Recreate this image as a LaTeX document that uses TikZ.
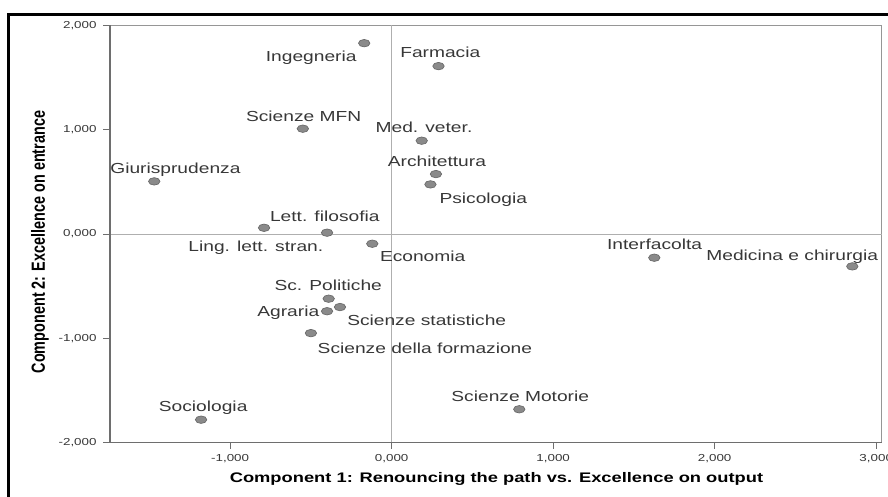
\documentclass[tikz,border=0pt]{standalone}
\usepackage{fontspec}
\setmainfont{Liberation Sans}
\usepackage{tikz}
\usetikzlibrary{positioning}
\usetikzlibrary{shapes.geometric}

\definecolor{dotfill}{RGB}{138,138,138}
\definecolor{dotline}{RGB}{105,105,105}
\definecolor{axisgray}{RGB}{110,110,110}
\definecolor{framegray}{RGB}{150,150,150}
\definecolor{refgray}{RGB}{175,175,175}
\definecolor{labgray}{RGB}{55,55,55}

\tikzset{
	facdot/.style={ellipse,draw=dotline,fill=dotfill,line width=0.5pt,minimum width=8.6pt,minimum height=5.6pt,inner sep=0pt},
	faclabel/.style={anchor=base,inner sep=0pt,text=labgray,font=\fontsize{10.9}{12}\selectfont,xscale=1.32},
	ticklabel/.style={inner sep=0pt,text=labgray,font=\fontsize{7.6}{9}\selectfont,xscale=1.32},
	axistitle/.style={inner sep=0pt,font=\bfseries\fontsize{10.5}{12}\selectfont,xscale=1.32}
}

\begin{document}
\begin{tikzpicture}[x=121.1pt,y=78.2pt]
		\useasboundingbox (-2.425,-2.512) rectangle (3.073,2.244);
		\clip (-2.425,-2.512) rectangle (3.073,2.244);
		
		% outer frame
		\draw[line width=2.25pt] (-2.373,-2.7) -- (-2.373,2.105) -- (3.2,2.105);
		
		% plot area and reference lines
		\draw[framegray,line width=0.75pt] (-1.744,2) -- (3.034,2) -- (3.034,-2);
		\draw[refgray,line width=0.75pt] (0,-2) -- (0,2);
		\draw[refgray,line width=0.75pt] (-1.744,0) -- (3.034,0);
		\draw[axisgray,line width=1pt] (-1.744,2) -- (-1.744,-2) -- (3.034,-2);
		
		% y ticks
		\draw[axisgray,line width=0.75pt] (-1.787,2) -- (-1.744,2);
		\draw[axisgray,line width=0.75pt] (-1.787,1) -- (-1.744,1);
		\draw[axisgray,line width=0.75pt] (-1.787,0) -- (-1.744,0);
		\draw[axisgray,line width=0.75pt] (-1.787,-1) -- (-1.744,-1);
		\draw[axisgray,line width=0.75pt] (-1.787,-2) -- (-1.744,-2);
		\node[ticklabel,anchor=east] (y2) at (-1.825,2) {2,000};
		\node[ticklabel,anchor=east] (y1) at (-1.825,1) {1,000};
		\node[ticklabel,anchor=east] (y0) at (-1.825,0) {0,000};
		\node[ticklabel,anchor=east] (ym1) at (-1.825,-1) {-1,000};
		\node[ticklabel,anchor=east] (ym2) at (-1.825,-2) {-2,000};
		
		% x ticks
		\draw[axisgray,line width=0.75pt] (-1,-2) -- (-1,-2.062);
		\draw[axisgray,line width=0.75pt] (0,-2) -- (0,-2.062);
		\draw[axisgray,line width=0.75pt] (1,-2) -- (1,-2.062);
		\draw[axisgray,line width=0.75pt] (2,-2) -- (2,-2.062);
		\draw[axisgray,line width=0.75pt] (3,-2) -- (3,-2.062);
		\node[ticklabel] (xm1) at (-1,-2.15) {-1,000};
		\node[ticklabel] (x0) at (0,-2.15) {0,000};
		\node[ticklabel] (x1) at (1,-2.15) {1,000};
		\node[ticklabel] (x2) at (2,-2.15) {2,000};
		\node[ticklabel] (x3) at (3,-2.15) {3,000};
		
		% faculties
		\node[facdot] (ing) at (-0.17,1.83) {};
		\node[faclabel] (ingtext) at (-0.498,1.652) {Ingegneria};
		\node[facdot] (far) at (0.29,1.61) {};
		\node[faclabel] (fartext) at (0.301,1.690) {Farmacia};
		\node[facdot] (mfn) at (-0.55,1.01) {};
		\node[faclabel] (mfntext) at (-0.545,1.077) {Scienze MFN};
		\node[facdot] (vet) at (0.186,0.895) {};
		\node[faclabel] (vettext) at (0.200,0.971) {Med. veter.};
		\node[facdot] (arc) at (0.274,0.575) {};
		\node[faclabel] (arctext) at (0.280,0.645) {Architettura};
		\node[facdot] (psi) at (0.24,0.476) {};
		\node[faclabel] (psitext) at (0.567,0.294) {Psicologia};
		\node[facdot] (giu) at (-1.47,0.505) {};
		\node[faclabel] (giutext) at (-1.339,0.582) {Giurisprudenza};
		\node[facdot] (let) at (-0.79,0.06) {};
		\node[faclabel] (lettext) at (-0.414,0.125) {Lett. filosofia};
		\node[facdot] (lin) at (-0.40,0.013) {};
		\node[faclabel] (lintext) at (-0.841,-0.163) {Ling. lett. stran.};
		\node[facdot] (eco) at (-0.12,-0.093) {};
		\node[faclabel] (ecotext) at (0.192,-0.268) {Economia};
		\node[facdot] (int) at (1.626,-0.227) {};
		\node[faclabel] (inttext) at (1.628,-0.144) {Interfacolta};
		\node[facdot] (med) at (2.852,-0.31) {};
		\node[faclabel] (medtext) at (2.480,-0.249) {Medicina e chirurgia};
		\node[facdot] (pol) at (-0.39,-0.62) {};
		\node[faclabel] (poltext) at (-0.393,-0.544) {Sc. Politiche};
		\node[facdot] (sta) at (-0.32,-0.70) {};
		\node[faclabel] (statext) at (0.217,-0.879) {Scienze statistiche};
		\node[facdot] (agr) at (-0.40,-0.74) {};
		\node[faclabel] (agrtext) at (-0.640,-0.793) {Agraria};
		\node[facdot] (for) at (-0.50,-0.95) {};
		\node[faclabel] (fortext) at (0.206,-1.141) {Scienze della formazione};
		\node[facdot] (soc) at (-1.18,-1.78) {};
		\node[faclabel] (soctext) at (-1.167,-1.704) {Sociologia};
		\node[facdot] (mot) at (0.79,-1.68) {};
		\node[faclabel] (mottext) at (0.796,-1.608) {Scienze Motorie};
		
		% axis titles
		\node[axistitle,anchor=base,font=\bfseries\fontsize{10.4}{12}\selectfont] (xtitle) at (0.649,-2.378) {Component 1: Renouncing the path vs. Excellence on output};
		\node[axistitle,rotate=90,font=\bfseries\fontsize{10.8}{12}\selectfont] (ytitle) at (-2.178,-0.077) {Component 2: Excellence on entrance};
	\end{tikzpicture}
\end{document}
